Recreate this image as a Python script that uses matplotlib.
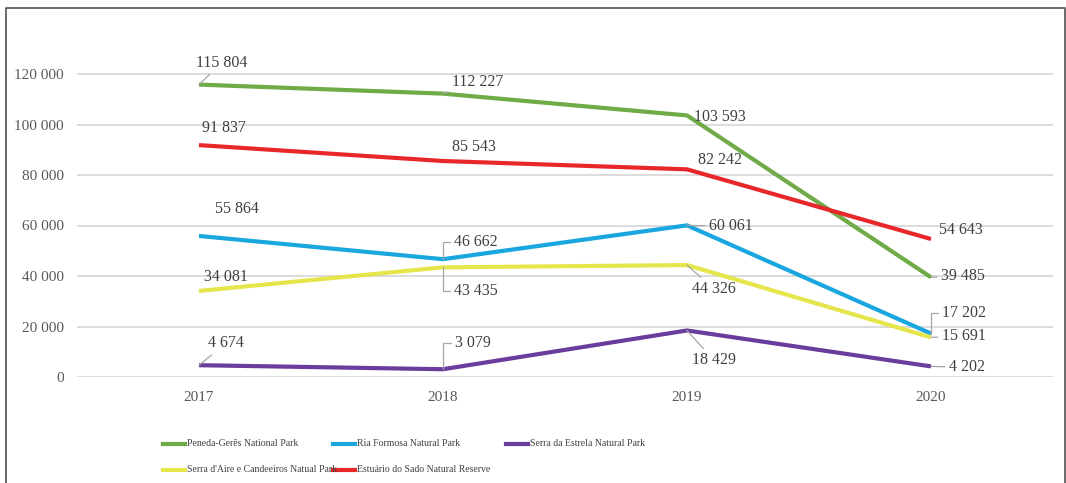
import matplotlib
matplotlib.use('Agg')
import matplotlib.pyplot as plt
from matplotlib.lines import Line2D

# ---------------- data ----------------
years = ['2017', '2018', '2019', '2020']
peneda = [115804, 112227, 103593, 39485]
ria = [55864, 46662, 60061, 17202]
estrela = [4674, 3079, 18429, 4202]
aire = [34081, 43435, 44326, 15691]
sado = [91837, 85543, 82242, 54643]
series_names = ['Peneda-Gerês National Park', 'Ria Formosa Natural Park',
                'Serra da Estrela Natural Park',
                "Serra d'Aire e Candeeiros Natual Park",
                'Estuário do Sado Natural Reserve']
yticks = [0, 20000, 40000, 60000, 80000, 100000, 120000]
ytick_labels = ['0', '20 000', '40 000', '60 000', '80 000', '100 000', '120 000']

# ---------------- style ----------------
colors = ['#6FAB46', '#1AA6DE', '#6A3C9C', '#E5E64C', '#E8272B']
# label offsets in pixels (dx, dy) and leader type per point
offsets = [
    [(23, 22), (35, 12), (33, -2), (32, 1)],
    [(38, 27), (33, 17), (44, -1), (33, 21)],
    [(27, 22), (30, 26), (27, -30), (36, -1)],
    [(27, 14), (33, -24), (27, -24), (33, 1)],
    [(25, 17), (31, 14), (33, 9), (30, 9)],
]
leaders = [
    ['line', 'line', 'none', 'line'],
    ['none', 'bracket', 'line', 'bracket'],
    ['line', 'bracket', 'line', 'line'],
    ['none', 'bracket', 'line', 'line'],
    ['none', 'none', 'none', 'none'],
]

plt.rcParams['font.family'] = ['Liberation Serif', 'DejaVu Serif']

W, H = 1066, 483
fig = plt.figure(figsize=(W / 100, H / 100), dpi=100)
ax = fig.add_axes([77 / W, 1 - 377 / H, 976 / W, 337 / H])

data = [peneda, ria, estrela, aire, sado]
x = list(range(len(years)))
for vals, c, name in zip(data, colors, series_names):
    ax.plot(x, vals, color=c, lw=3, solid_capstyle='butt', label=name, zorder=3)

for vals, offs, leads in zip(data, offsets, leaders):
    for xi, v, (dx, dy), ld in zip(x, vals, offs, leads):
        txt = f"{v:,}".replace(',', ' ')
        kw = {}
        if ld == 'line':
            kw['arrowprops'] = dict(arrowstyle='-', color='#A6A6A6', lw=0.9,
                                    shrinkA=1, shrinkB=0)
        elif ld == 'bracket':
            kw['arrowprops'] = dict(arrowstyle='-', color='#A6A6A6', lw=0.9,
                                    shrinkA=1, shrinkB=0,
                                    connectionstyle='angle,angleA=0,angleB=90,rad=0')
        ax.annotate(txt, xy=(xi, v), xytext=(dx, dy), textcoords='offset pixels',
                    ha='center', va='center', fontsize=11.5, color='#404040',
                    zorder=4, **kw)

ax.set_xlim(-0.5, 3.5)
ax.set_ylim(0, 120000 * 337 / 303)
ax.set_yticks(yticks)
ax.set_yticklabels(ytick_labels)
ax.set_xticks(x)
ax.set_xticklabels(years)
ax.tick_params(axis='both', length=0, labelsize=11, labelcolor='#595959')
ax.tick_params(axis='y', pad=9.5)
ax.tick_params(axis='x', pad=10)
ax.grid(axis='y', color='#D9D9D9', lw=1.3)
ax.set_axisbelow(True)
for s in ax.spines.values():
    s.set_visible(False)

# legend (manual layout)
col_x = [163, 333, 506]
row_y = [444, 470]
order = [(0, 0), (0, 1), (0, 2), (1, 0), (1, 1)]
for (r, cidx), name, c in zip(order, series_names, colors):
    x0 = col_x[cidx]
    y0 = 1 - row_y[r] / H
    fig.add_artist(Line2D([x0 / W, (x0 + 22) / W], [y0, y0], color=c, lw=3,
                          transform=fig.transFigure))
    fig.text((x0 + 24) / W, y0, name, ha='left', va='center', fontsize=7,
             color='#404040')

# frame
fig.add_artist(Line2D([6 / W, 6 / W, 1065 / W, 1065 / W],
                      [0, 1 - 8 / H, 1 - 8 / H, 0], color='#505050', lw=1.2,
                      transform=fig.transFigure))

fig.savefig('out.png', dpi=100)
